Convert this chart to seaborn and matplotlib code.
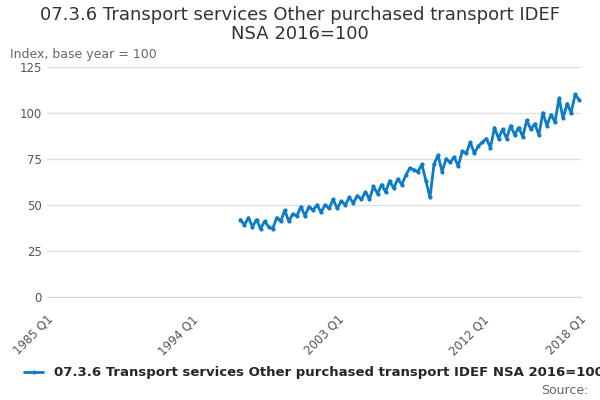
import matplotlib
matplotlib.use("Agg")
import matplotlib.pyplot as plt
import seaborn as sns
import numpy as np
import pandas as pd

start_year = 1997
values = [42,39,43,38, 42,37,41,38, 37,43,41,47, 41,45,44,49, 44,49,47,50,
          46,50,48,53, 48,52,50,54, 51,55,53,57, 53,60,56,61, 57,63,59,64,
          61,66,70,69, 68,72,63,54, 72,77,68,75, 73,76,71,79, 78,84,78,82,
          84,86,81,92, 86,91,86,93, 88,92,87,96, 91,94,88,100, 93,99,95,108,
          97,105,100,110, 107]
tick_years = [1985, 1994, 2003, 2012, 2018]
tick_labels = ["1985 Q1", "1994 Q1", "2003 Q1", "2012 Q1", "2018 Q1"]
series_name = "07.3.6 Transport services Other purchased transport IDEF NSA 2016=100"

x = [start_year + i/4 for i in range(len(values))]
df = pd.DataFrame({"x": x, "v": values})

sns.set_style("white")
fig = plt.figure(figsize=(6, 4), dpi=100)
ax = fig.add_axes([0.078, 0.258, 0.89, 0.575])
sns.lineplot(data=df, x="x", y="v", ax=ax, color="#0b7cc5", lw=2,
             marker="o", markersize=3, markeredgewidth=0, label=series_name)
ax.set_xlim(1985, 2018.1)
ax.set_ylim(0, 125)
ax.set_yticks([0, 25, 50, 75, 100, 125])
ax.grid(axis="y", color="#e0e0e0", lw=1)
ax.set_xticks(tick_years)
ax.set_xticklabels(tick_labels, rotation=45, ha="right", rotation_mode="anchor", color="#555555")
ax.set_xticks(np.arange(1985, 2019, 3), minor=True)
ax.tick_params(axis="x", which="both", length=8, color="#ccd6eb", direction="out")
ax.tick_params(axis="y", length=0, labelcolor="#555555")
ax.tick_params(labelsize=8.5)
for s in ["top", "right", "left"]:
    ax.spines[s].set_visible(False)
ax.spines["bottom"].set_color("#ccd6eb")
ax.set_xlabel("")
ax.set_ylabel("")
fig.text(0.5, 0.985, "07.3.6 Transport services Other purchased transport IDEF\nNSA 2016=100",
         ha="center", va="top", fontsize=13, color="#333333", linespacing=1.1)
fig.text(0.017, 0.855, "Index, base year = 100", fontsize=9, color="#666666")
ax.legend(loc="center", bbox_to_anchor=(0.5, -0.33), frameon=False,
          prop={"weight": "bold", "size": 9.5}, handlelength=1.5)
fig.text(0.98, 0.015, "Source:", ha="right", fontsize=9, color="#666666")
fig.savefig("out.png", dpi=100)
